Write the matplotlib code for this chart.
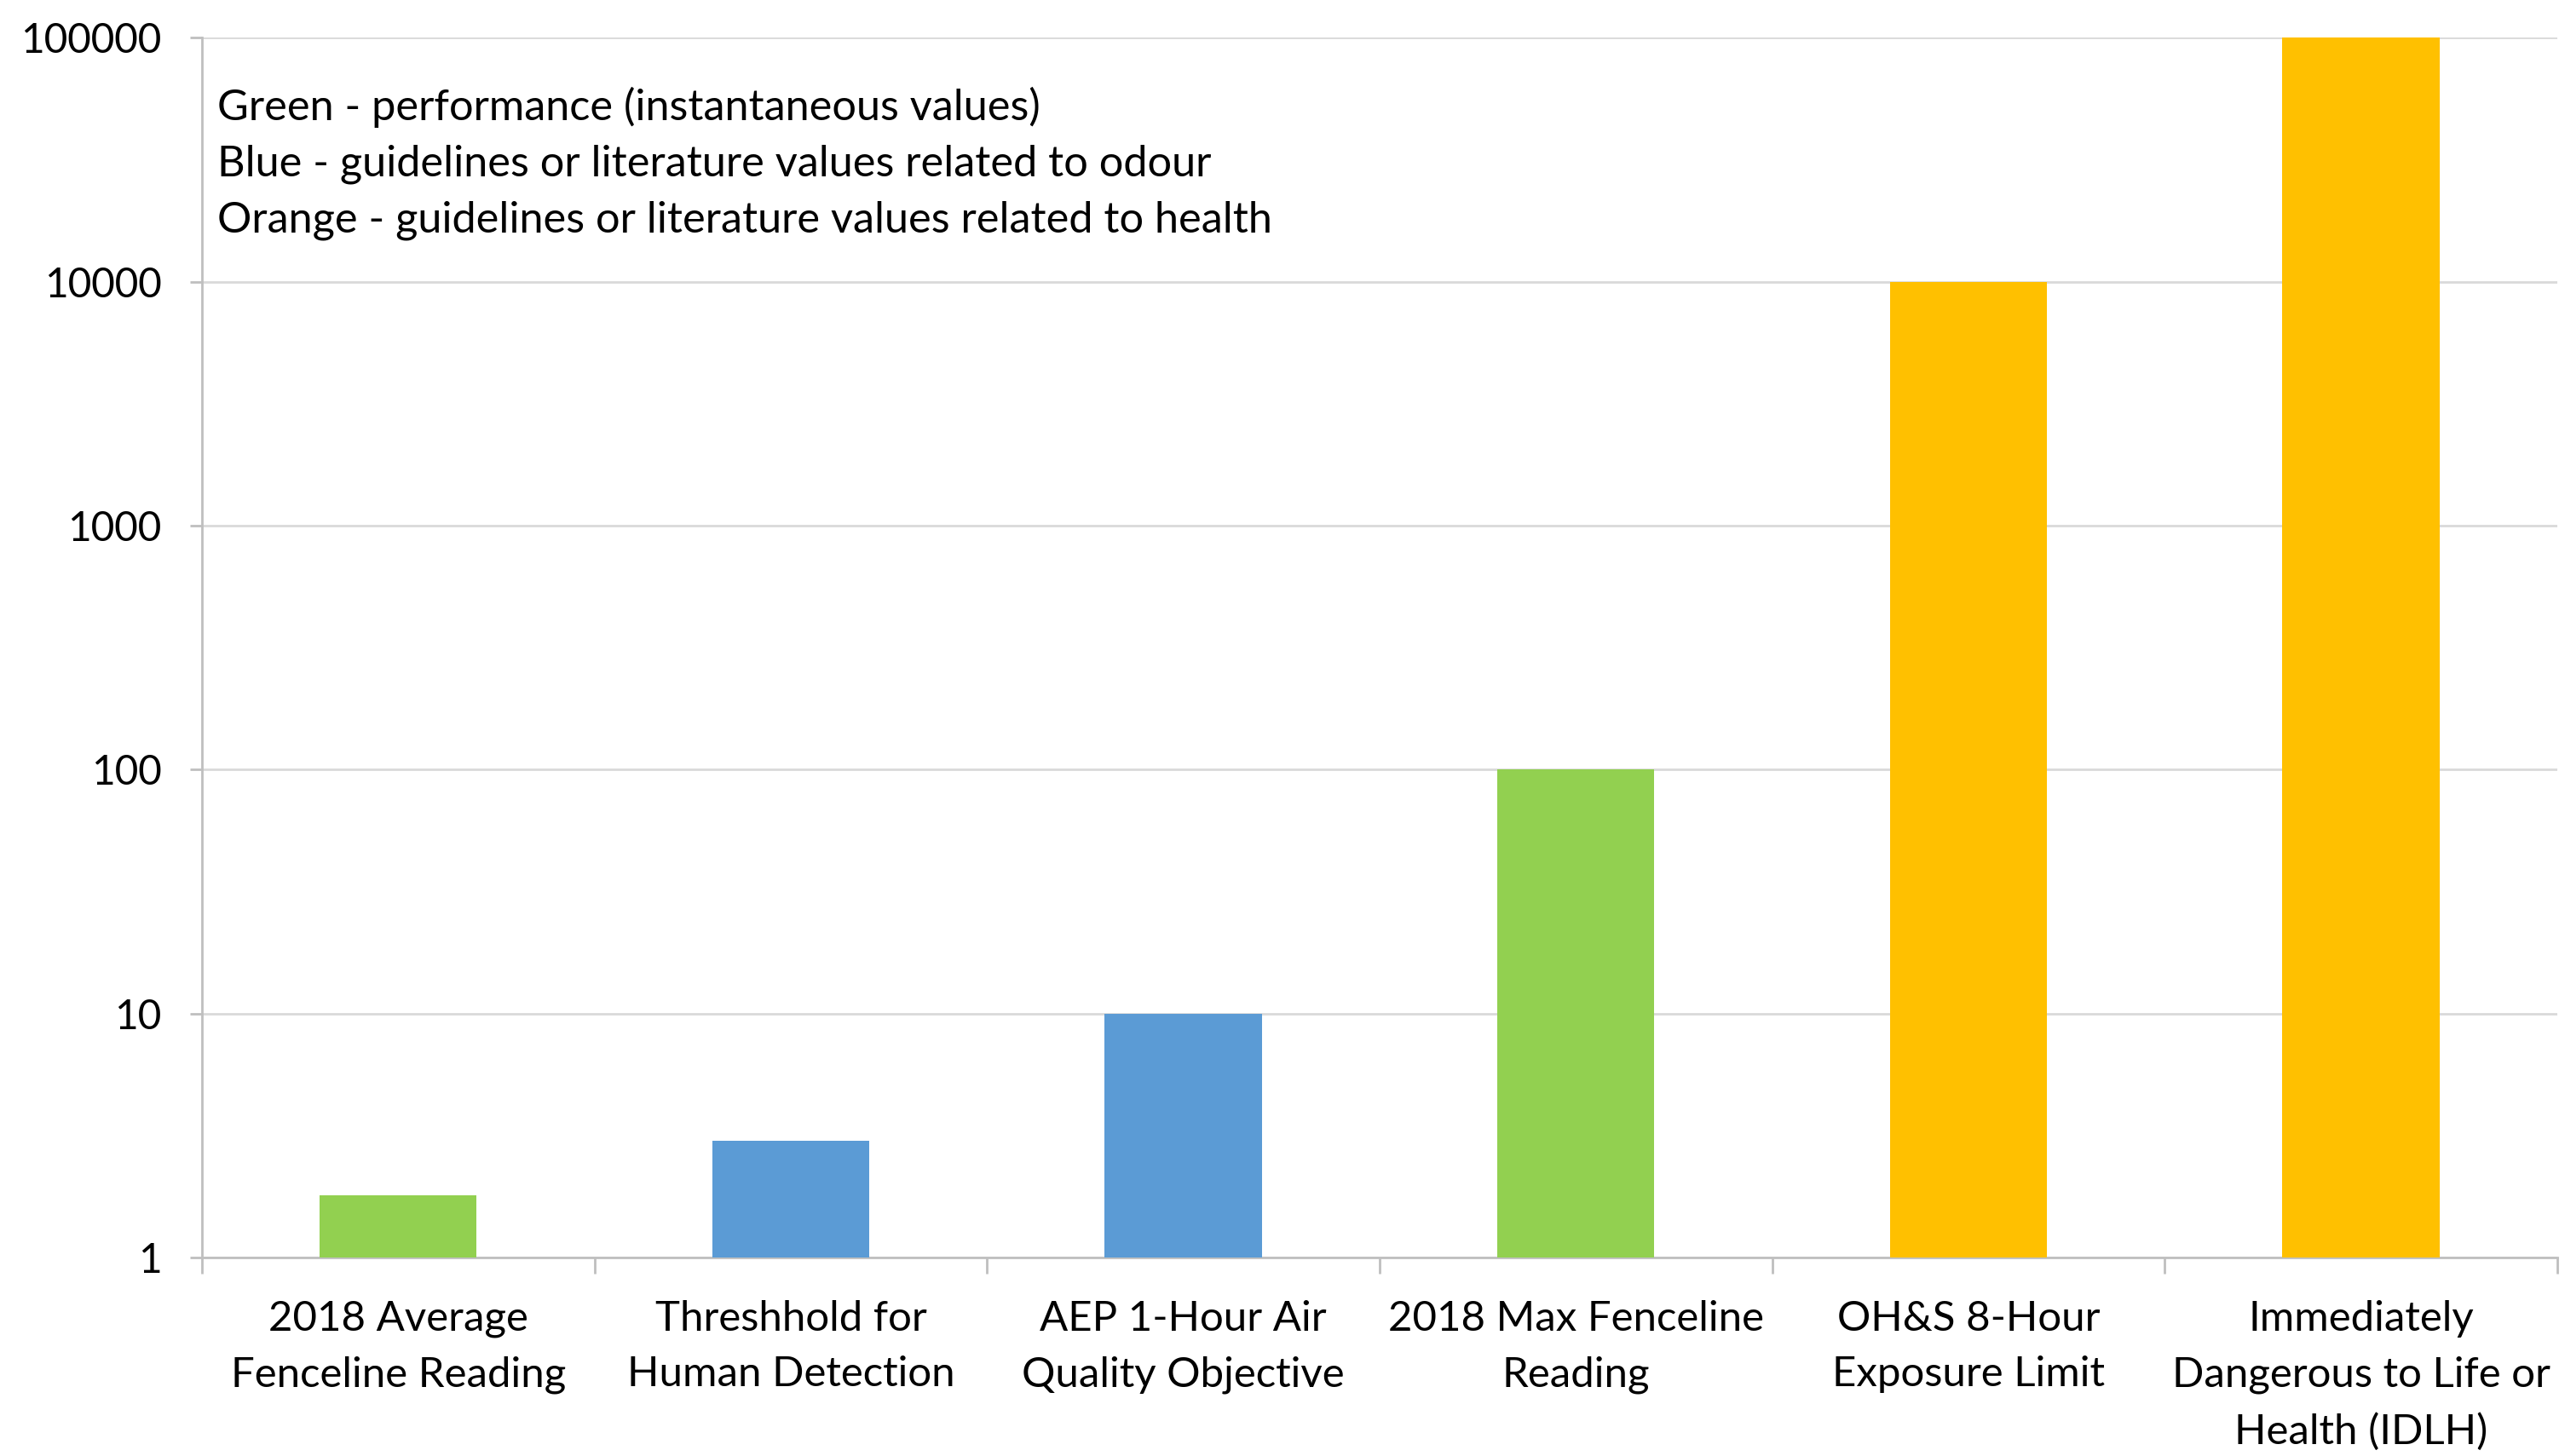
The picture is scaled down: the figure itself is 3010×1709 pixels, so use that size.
import numpy as np
import matplotlib
matplotlib.use("Agg")
import matplotlib.pyplot as plt
from matplotlib.ticker import FixedLocator, NullLocator

plt.rcParams['font.family'] = ['Lato', 'DejaVu Sans']

categories = ["2018 Average\nFenceline Reading",
              "Threshhold for\nHuman Detection",
              "AEP 1-Hour Air\nQuality Objective",
              "2018 Max Fenceline\nReading",
              "OH&S 8-Hour\nExposure Limit",
              "Immediately\nDangerous to Life or\nHealth (IDLH)"]
values = [1.8, 3, 10, 100, 10000, 100000]
colors = ["#92D050", "#5B9BD5", "#5B9BD5", "#92D050", "#FFC000", "#FFC000"]
yticks = [1, 10, 100, 1000, 10000, 100000]
notes = ["Green - performance (instantaneous values)",
         "Blue - guidelines or literature values related to odour",
         "Orange - guidelines or literature values related to health"]

fig = plt.figure(figsize=(15.05, 8.545), dpi=200)
ax = fig.add_axes([0.0787, 0.1364, 0.9183, 0.8376])

x = np.arange(len(categories))
ax.bar(x, values, width=0.4, color=colors, bottom=0, zorder=3)
ax.set_yscale('log')
ax.set_ylim(1, 100000)
ax.set_xlim(-0.5, len(categories) - 0.5)

ax.yaxis.set_major_locator(FixedLocator(yticks))
ax.yaxis.set_minor_locator(NullLocator())
ax.set_yticklabels([str(t) for t in yticks])
ax.grid(axis='y', color='#d9d9d9', linewidth=1.0, zorder=0)

ax.set_xticks(x)
ax.set_xticklabels(categories, fontsize=17.7, linespacing=1.6)
ax.tick_params(axis='x', length=0, pad=18)
ax.set_xticks(np.arange(-0.5, len(categories)), minor=True)
ax.tick_params(axis='x', which='minor', length=7, color='#bfbfbf', width=1)
ax.tick_params(axis='y', length=5, color='#bfbfbf', width=1, pad=12, labelsize=17.2)

for s in ['top', 'right']:
    ax.spines[s].set_visible(False)
for s in ['left', 'bottom']:
    ax.spines[s].set_color('#bfbfbf')
    ax.spines[s].set_linewidth(1)

for i, n in enumerate(notes):
    ax.text(0.0065, 0.943 - i * 0.0463, n, transform=ax.transAxes,
            fontsize=18.2, va='center', ha='left')

fig.savefig("out.png", dpi=200)
